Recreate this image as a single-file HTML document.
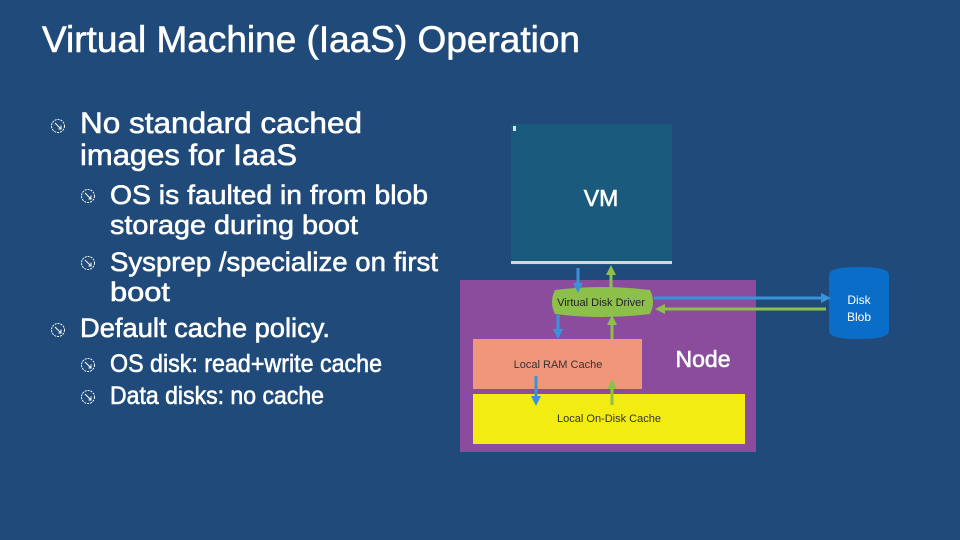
<!DOCTYPE html>
<html><head><style>html,body{margin:0;padding:0;background:#1f4a7a;}svg{display:block}</style></head>
<body>
<svg width="960" height="540" viewBox="0 0 960 540" xmlns="http://www.w3.org/2000/svg" font-family="Liberation Sans, sans-serif">
<defs>
<marker id="ab" markerWidth="10" markerHeight="10" refX="5" refY="5" orient="auto" markerUnits="userSpaceOnUse"><path d="M0,0 L10,5 L0,10 Z" fill="#3a92dc"/></marker>
<marker id="ag" markerWidth="10" markerHeight="10" refX="5" refY="5" orient="auto" markerUnits="userSpaceOnUse"><path d="M0,0 L10,5 L0,10 Z" fill="#8dc04a"/></marker>
<g id="bul"><circle cx="0" cy="0" r="6.5" fill="none" stroke="#fff" stroke-width="1" stroke-dasharray="2 1"/><path d="M-3,-3 L3,3 M3,-0.5 L3,3 L0.5,3" stroke="#fff" stroke-width="1" fill="none"/></g>
</defs>
<rect width="960" height="540" fill="#1f4a7a"/>
<g fill="#fff" stroke="#fff" stroke-width="0.6">
<text x="42" y="52" font-size="37" textLength="538" lengthAdjust="spacingAndGlyphs">Virtual Machine (IaaS) Operation</text>
<text x="80" y="133" font-size="30" textLength="282" lengthAdjust="spacingAndGlyphs">No standard cached</text>
<text x="80" y="165" font-size="30" textLength="217" lengthAdjust="spacingAndGlyphs">images for IaaS</text>
<text x="110" y="204" font-size="27" textLength="318" lengthAdjust="spacingAndGlyphs">OS is faulted in from blob</text>
<text x="110" y="234" font-size="27" textLength="248" lengthAdjust="spacingAndGlyphs">storage during boot</text>
<text x="110" y="271" font-size="27" textLength="328" lengthAdjust="spacingAndGlyphs">Sysprep /specialize on first</text>
<text x="110" y="301" font-size="27" textLength="60" lengthAdjust="spacingAndGlyphs">boot</text>
<text x="80" y="337" font-size="27" textLength="250" lengthAdjust="spacingAndGlyphs">Default cache policy.</text>
<text x="110" y="372" font-size="25" textLength="272" lengthAdjust="spacingAndGlyphs">OS disk: read+write cache</text>
<text x="110" y="404" font-size="25" textLength="214" lengthAdjust="spacingAndGlyphs">Data disks: no cache</text>
</g>
<use href="#bul" x="58" y="126"/>
<use href="#bul" x="88" y="196"/>
<use href="#bul" x="88" y="263"/>
<use href="#bul" x="58" y="330"/>
<use href="#bul" x="88" y="365"/>
<use href="#bul" x="88" y="397"/>

<!-- VM -->
<rect x="511" y="124" width="161" height="141" fill="#1a5b7d"/>
<rect x="511" y="261" width="161" height="3" fill="#cfd8dc"/>
<rect x="513" y="126" width="3" height="5" fill="#dde"/>
<text x="601" y="206" font-size="23" fill="#fff" stroke="#fff" stroke-width="0.6" text-anchor="middle">VM</text>
<!-- Node -->
<rect x="460" y="280" width="296" height="172" fill="#8b4c9e"/>
<text x="703" y="367" font-size="23" fill="#fff" stroke="#fff" stroke-width="0.6" text-anchor="middle">Node</text>
<rect x="473" y="339" width="169" height="50" fill="#f0967a"/>
<text x="558" y="368" font-size="11" fill="#333" text-anchor="middle">Local RAM Cache</text>
<rect x="473" y="394" width="272" height="50" fill="#f2ec12"/>
<text x="609" y="422" font-size="11" fill="#333" text-anchor="middle">Local On-Disk Cache</text>
<path d="M555,290 Q601,284 650,290 Q656,302 650,314 Q601,320 555,314 Q549,302 555,290 Z" fill="#8dc04a"/>
<text x="601" y="306" font-size="11" fill="#222" text-anchor="middle">Virtual Disk Driver</text>
<!-- Disk blob -->
<path d="M829,275 Q829,267 859,267 Q889,267 889,275 L889,331 Q889,339 859,339 Q829,339 829,331 Z" fill="#0a6ec8"/>
<text x="859" y="304" font-size="12" fill="#fff" text-anchor="middle">Disk</text>
<text x="859" y="321" font-size="12" fill="#fff" text-anchor="middle">Blob</text>
<!-- arrows -->
<g stroke-width="3" fill="none">
<line x1="578" y1="268" x2="578" y2="288" stroke="#3a92dc" marker-end="url(#ab)"/>
<line x1="611" y1="288" x2="611" y2="270" stroke="#8dc04a" marker-end="url(#ag)"/>
<line x1="558" y1="315" x2="558" y2="334" stroke="#3a92dc" marker-end="url(#ab)"/>
<line x1="612" y1="339" x2="612" y2="320" stroke="#8dc04a" marker-end="url(#ag)"/>
<line x1="536" y1="376" x2="536" y2="401" stroke="#3a92dc" marker-end="url(#ab)"/>
<line x1="612" y1="405" x2="612" y2="384" stroke="#8dc04a" marker-end="url(#ag)"/>
<line x1="654" y1="298" x2="826" y2="298" stroke="#3a92dc" marker-end="url(#ab)"/>
<line x1="826" y1="309" x2="660" y2="309" stroke="#8dc04a" marker-end="url(#ag)"/>
</g>
</svg>
</body></html>
